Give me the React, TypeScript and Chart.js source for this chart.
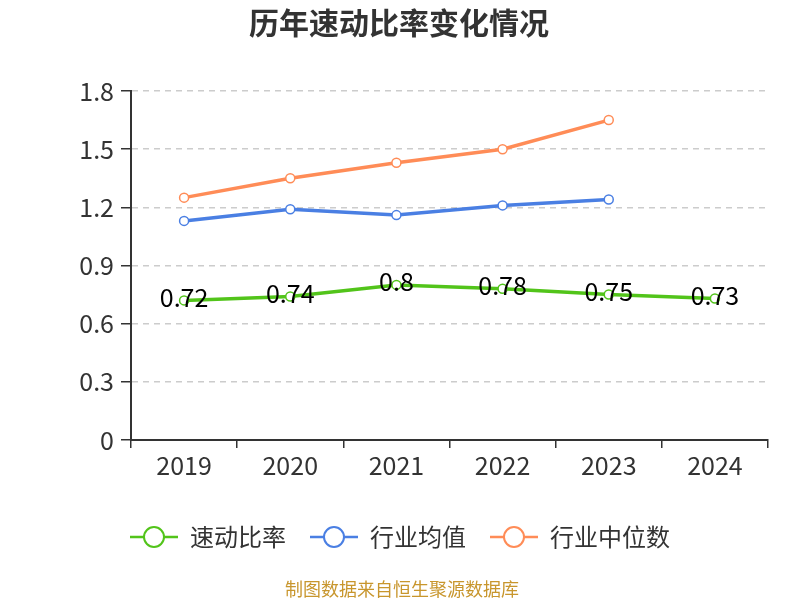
import { useEffect, useRef } from 'react';
import { Chart, registerables } from 'chart.js';

Chart.register(...registerables);

const titleText = '历年速动比率变化情况';
const footerText = '制图数据来自恒生聚源数据库';
const categories = ['2019', '2020', '2021', '2022', '2023', '2024'];
const seriesNames = ['速动比率', '行业均值', '行业中位数'];
const quickRatio = [0.72, 0.74, 0.8, 0.78, 0.75, 0.73];
const industryAvg = [1.13, 1.19, 1.16, 1.21, 1.24, null];
const industryMedian = [1.25, 1.35, 1.43, 1.5, 1.65, null];
const yTicks = [0, 0.3, 0.6, 0.9, 1.2, 1.5, 1.8];
const seriesColors = ['#52c41a', '#4a7fe3', '#ff8c57'];

const FONT = '"Noto Sans CJK SC", "Noto Sans", sans-serif';

const overlayPlugin = {
  id: 'overlay',
  afterDraw(chart: any) {
    const ctx = chart.ctx as CanvasRenderingContext2D;
    ctx.save();
    // title
    ctx.font = `bold 30px ${FONT}`;
    ctx.fillStyle = '#333333';
    ctx.textAlign = 'center';
    ctx.textBaseline = 'middle';
    ctx.fillText(titleText, 399, 23);

    // data labels for first series
    const meta = chart.getDatasetMeta(0);
    ctx.font = `25px ${FONT}`;
    ctx.fillStyle = '#000000';
    meta.data.forEach((pt: any, i: number) => {
      ctx.fillText(String(quickRatio[i]), pt.x, pt.y - 3);
    });

    // legend
    ctx.font = `24px ${FONT}`;
    const symW = 48;
    const gapText = 12;
    const gapItem = 24;
    const widths = seriesNames.map((n) => ctx.measureText(n).width);
    const total = widths.reduce((a, w) => a + symW + gapText + w, 0) + gapItem * (seriesNames.length - 1);
    let x = 400 - total / 2;
    const ly = 537;
    seriesNames.forEach((name, i) => {
      const c = chart.data.datasets[i].borderColor;
      ctx.strokeStyle = c;
      ctx.lineWidth = 2.5;
      ctx.beginPath();
      ctx.moveTo(x, ly);
      ctx.lineTo(x + symW, ly);
      ctx.stroke();
      ctx.beginPath();
      ctx.arc(x + symW / 2, ly, 10, 0, Math.PI * 2);
      ctx.fillStyle = '#ffffff';
      ctx.fill();
      ctx.lineWidth = 2;
      ctx.stroke();
      ctx.fillStyle = '#333333';
      ctx.textAlign = 'left';
      ctx.fillText(name, x + symW + gapText, ly);
      x += symW + gapText + widths[i] + gapItem;
    });

    // footer
    ctx.font = `18px ${FONT}`;
    ctx.fillStyle = '#c8962d';
    ctx.textAlign = 'center';
    ctx.fillText(footerText, 402, 589);
    ctx.restore();
  },
};

export default function App() {
  const ref = useRef<HTMLCanvasElement>(null);
  useEffect(() => {
    if (!ref.current) return;
    const mk = (label: string, data: (number | null)[], color: string) => ({
      label,
      data,
      borderColor: color,
      backgroundColor: color,
      borderWidth: 3.5,
      pointRadius: 4.5,
      pointHoverRadius: 4.5,
      pointBorderWidth: 1.5,
      pointBackgroundColor: '#ffffff',
      pointBorderColor: color,
      tension: 0,
      spanGaps: false,
    });
    const chart = new Chart(ref.current, {
      type: 'line',
      data: {
        labels: categories,
        datasets: [
          mk(seriesNames[0], quickRatio, seriesColors[0]),
          mk(seriesNames[1], industryAvg, seriesColors[1]),
          mk(seriesNames[2], industryMedian, seriesColors[2]),
        ],
      },
      options: {
        responsive: false,
        animation: false,
        devicePixelRatio: 1,
        layout: { padding: { left: 0, right: 32, top: 91, bottom: 0 } },
        plugins: {
          legend: { display: false },
          title: { display: false },
          tooltip: { enabled: false },
        },
        scales: {
          x: {
            type: 'category',
            offset: true,
            afterFit: (s: any) => {
              s.height = 160;
            },
            grid: {
              display: true,
              offset: true,
              drawOnChartArea: false,
              drawTicks: true,
              tickLength: 8,
              color: '#333333',
              tickColor: '#333333',
              lineWidth: 1.5,
            },
            border: { display: true, color: '#333333', width: 2 },
            ticks: {
              color: '#333333',
              padding: 2,
              font: { family: FONT, size: 25 },
              maxRotation: 0,
            },
          },
          y: {
            min: 0,
            max: 1.8,
            afterFit: (s: any) => {
              s.width = 131;
            },
            afterBuildTicks: (s: any) => {
              s.ticks = yTicks.map((v) => ({ value: v }));
            },
            grid: {
              color: '#cccccc',
              lineWidth: 1.5,
              tickColor: '#333333',
              tickLength: 10,
              tickBorderDash: [],
              tickWidth: 1.5,
            },
            border: { display: true, color: '#333333', width: 2, dash: [6, 5] },
            ticks: {
              color: '#333333',
              padding: 7,
              font: { family: FONT, size: 25 },
              callback: (v: any) => String(Math.round(Number(v) * 10) / 10),
            },
          },
        },
      },
      plugins: [overlayPlugin],
    });
    return () => chart.destroy();
  }, []);
  return (
    <div style={{ position: 'absolute', left: 0, top: 0, width: 800, height: 600, background: '#fff' }}>
      <canvas ref={ref} width={800} height={600} style={{ width: 800, height: 600, display: 'block' }} />
    </div>
  );
}
